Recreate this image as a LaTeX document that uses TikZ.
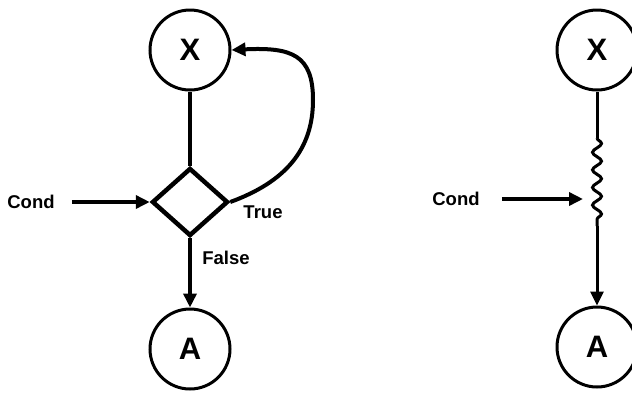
\documentclass[tikz,border=0pt]{standalone}
\usepackage{fontspec}
\setmainfont{Liberation Sans}
\usetikzlibrary{arrows.meta,shapes.geometric,decorations.pathmorphing}
\begin{document}
\begin{tikzpicture}[x=1pt,y=-1pt,
  state/.style={circle,draw,line width=3pt,minimum size=80pt,inner sep=0pt,font=\fontsize{31}{33}\selectfont\bfseries},
  lbl/.style={font=\fontsize{18.5}{20}\selectfont\bfseries,inner sep=0pt},
  tip/.style={-{Triangle[length=14pt,width=13pt]}},
  flow/.style={line width=3.5pt,tip},
  plainline/.style={line width=3.5pt},
  decision/.style={diamond,draw,line width=4.5pt,minimum width=76pt,minimum height=68pt,inner sep=0pt}]
\useasboundingbox (0,0) rectangle (632,392);
% left diagram
\node[state] (x1) at (190,50) {X};
\node[decision] (d) at (190,202) {};
\node[state] (a1) at (190,349) {A};
\node[lbl] (c1) at (31,202) {Cond};
\node[lbl] (t) at (263,212) {True};
\node[lbl] (f) at (226,258) {False};
\draw[plainline] (x1.south) -- (d.north);
\draw[flow] (c1.east) ++(17pt,0) coordinate (c1s) (c1s) -- (d.west);
\draw[flow] (d.south) -- (a1.north);
\draw[line width=4pt,tip] (d.east) .. controls (285,182) and (313,150) .. (313,100) .. controls (313,55) and (292,47) .. (x1.east);
% right diagram
\node[state] (x2) at (597,50) {X};
\node[state] (a2) at (597,347) {A};
\node[lbl] (c2) at (456,199) {Cond};
\coordinate (s1) at (597,138);
\coordinate (s2) at (597,226);
\coordinate (tip2) at (583,199);
\draw[plainline,line width=3pt] (x2.south) -- (s1);
\draw[line width=3pt,decorate,decoration={snake,segment length=17.6pt,amplitude=4.5pt}] (s1) -- (s2);
\draw[flow,line width=3pt] (s2) -- (a2.north);
\draw[flow] (c2.east) ++(22pt,0) coordinate (c2s) (c2s) -- (tip2);
\end{tikzpicture}
\end{document}
